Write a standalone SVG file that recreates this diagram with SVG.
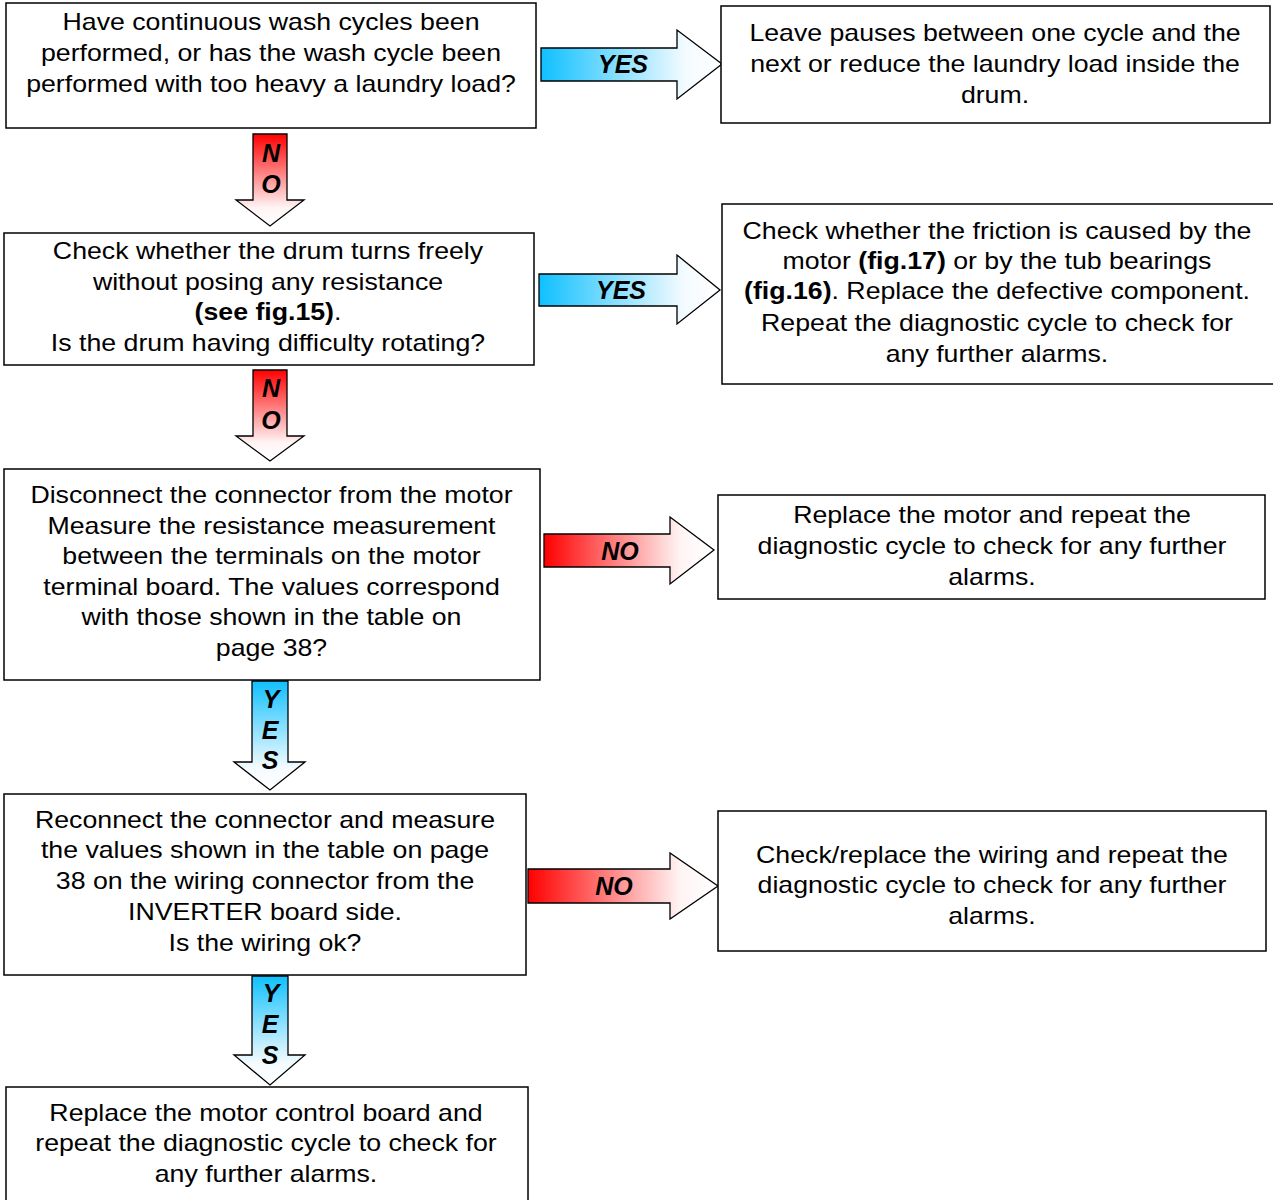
<svg xmlns="http://www.w3.org/2000/svg" width="1273" height="1200" viewBox="0 0 1273 1200">
<style>
  .box { fill: #ffffff; stroke: #000000; stroke-width: 1.5; }
  .t { font-family: "Liberation Sans", Arial, sans-serif; font-size: 24px; fill: #000000; text-anchor: middle; }
  .b { font-weight: bold; }
  .arr { stroke: #000000; stroke-width: 1.3; stroke-linejoin: miter; }
  .lbl { font-family: "Liberation Sans", Arial, sans-serif; font-size: 25px; font-weight: bold; font-style: italic; fill: #000000; text-anchor: middle; }
</style>
<defs>
  <linearGradient id="blueH" x1="0" y1="0" x2="1" y2="0">
    <stop offset="0" stop-color="#0fc0ff"/>
    <stop offset="0.8" stop-color="#f4fbff"/>
    <stop offset="1" stop-color="#ffffff"/>
  </linearGradient>
  <linearGradient id="redH" x1="0" y1="0" x2="1" y2="0">
    <stop offset="0" stop-color="#ff0000"/>
    <stop offset="0.8" stop-color="#fff4f4"/>
    <stop offset="1" stop-color="#ffffff"/>
  </linearGradient>
  <linearGradient id="blueV" x1="0" y1="0" x2="0" y2="1">
    <stop offset="0" stop-color="#0fc0ff"/>
    <stop offset="0.8" stop-color="#f4fbff"/>
    <stop offset="1" stop-color="#ffffff"/>
  </linearGradient>
  <linearGradient id="redV" x1="0" y1="0" x2="0" y2="1">
    <stop offset="0" stop-color="#ff0000"/>
    <stop offset="0.8" stop-color="#fff4f4"/>
    <stop offset="1" stop-color="#ffffff"/>
  </linearGradient>
</defs>
<rect width="1273" height="1200" fill="#ffffff"/>

<g id="connectors">
  <!-- right-pointing arrows -->
  <path class="arr" fill="url(#blueH)" d="M541,48 H677 V30 L722,64 L677,99 V81 H541 Z"/>
  <text class="lbl" x="623" y="73">YES</text>
  <path class="arr" fill="url(#blueH)" d="M539,274 H677 V255 L720,290 L677,324 V306 H539 Z"/>
  <text class="lbl" x="621" y="299">YES</text>
  <path class="arr" fill="url(#redH)" d="M544,534 H670 V517 L714,550 L670,584 V567 H544 Z"/>
  <text class="lbl" x="620" y="560">NO</text>
  <path class="arr" fill="url(#redH)" d="M528,869 H670 V853 L718,886 L670,919 V903 H528 Z"/>
  <text class="lbl" x="614" y="895">NO</text>
  <!-- downward arrows -->
  <path class="arr" fill="url(#redV)" d="M253,134 H287 V200 H304 L270,226 L236,200 H253 Z"/>
  <text class="lbl" x="271" y="162">N</text>
  <text class="lbl" x="271" y="193">O</text>
  <path class="arr" fill="url(#redV)" d="M253,370 H287 V436 H304 L270,461 L236,436 H253 Z"/>
  <text class="lbl" x="271" y="397">N</text>
  <text class="lbl" x="271" y="429">O</text>
  <path class="arr" fill="url(#blueV)" d="M252,681 H288 V762 H305 L270,790 L234,762 H252 Z"/>
  <text class="lbl" x="271" y="708">Y</text>
  <text class="lbl" x="270" y="739">E</text>
  <text class="lbl" x="270" y="769">S</text>
  <path class="arr" fill="url(#blueV)" d="M252,976 H288 V1055 H305 L270,1085 L234,1055 H252 Z"/>
  <text class="lbl" x="271" y="1002">Y</text>
  <text class="lbl" x="270" y="1033">E</text>
  <text class="lbl" x="270" y="1064">S</text>
</g>

<g id="q-continuous-cycles">
  <rect class="box" x="6" y="3" width="530" height="125"/>
  <g transform="translate(271,0) scale(1.113,1)">
    <text class="t" x="0" y="30">Have continuous wash cycles been</text>
    <text class="t" x="0" y="61">performed, or has the wash cycle been</text>
    <text class="t" x="0" y="92">performed with too heavy a laundry load?</text>
  </g>
</g>

<g id="a-leave-pauses">
  <rect class="box" x="721" y="6" width="549" height="117"/>
  <g transform="translate(995,0) scale(1.113,1)">
    <text class="t" x="0" y="41">Leave pauses between one cycle and the</text>
    <text class="t" x="0" y="72">next or reduce the laundry load inside the</text>
    <text class="t" x="0" y="103">drum.</text>
  </g>
</g>

<g id="q-drum-turns">
  <rect class="box" x="4" y="233" width="530" height="132"/>
  <g transform="translate(268,0) scale(1.113,1)">
    <text class="t" x="0" y="259">Check whether the drum turns freely</text>
    <text class="t" x="0" y="290">without posing any resistance</text>
    <text class="t" x="0" y="320"><tspan class="b">(see fig.15)</tspan>.</text>
    <text class="t" x="0" y="351">Is the drum having difficulty rotating?</text>
  </g>
</g>

<g id="a-check-friction">
  <rect class="box" x="722" y="204" width="556" height="180"/>
  <g transform="translate(997,0) scale(1.113,1)">
    <text class="t" x="0" y="239">Check whether the friction is caused by the</text>
    <text class="t" x="0" y="269">motor <tspan class="b">(fig.17)</tspan> or by the tub bearings</text>
    <text class="t" x="0" y="299"><tspan class="b">(fig.16)</tspan>. Replace the defective component.</text>
    <text class="t" x="0" y="331">Repeat the diagnostic cycle to check for</text>
    <text class="t" x="0" y="362">any further alarms.</text>
  </g>
</g>

<g id="q-motor-resistance">
  <rect class="box" x="4" y="469" width="536" height="211"/>
  <g transform="translate(271.5,0) scale(1.113,1)">
    <text class="t" x="0" y="503">Disconnect the connector from the motor</text>
    <text class="t" x="0" y="534">Measure the resistance measurement</text>
    <text class="t" x="0" y="564">between the terminals on the motor</text>
    <text class="t" x="0" y="595">terminal board. The values correspond</text>
    <text class="t" x="0" y="625">with those shown in the table on</text>
    <text class="t" x="0" y="656">page 38?</text>
  </g>
</g>

<g id="a-replace-motor">
  <rect class="box" x="718" y="495" width="547" height="104"/>
  <g transform="translate(992,0) scale(1.113,1)">
    <text class="t" x="0" y="523">Replace the motor and repeat the</text>
    <text class="t" x="0" y="554">diagnostic cycle to check for any further</text>
    <text class="t" x="0" y="585">alarms.</text>
  </g>
</g>

<g id="q-wiring">
  <rect class="box" x="4" y="794" width="522" height="181"/>
  <g transform="translate(265,0) scale(1.113,1)">
    <text class="t" x="0" y="828">Reconnect the connector and measure</text>
    <text class="t" x="0" y="858">the values shown in the table on page</text>
    <text class="t" x="0" y="889">38 on the wiring connector from the</text>
    <text class="t" x="0" y="920">INVERTER board side.</text>
    <text class="t" x="0" y="951">Is the wiring ok?</text>
  </g>
</g>

<g id="a-replace-wiring">
  <rect class="box" x="718" y="811" width="548" height="140"/>
  <g transform="translate(992,0) scale(1.113,1)">
    <text class="t" x="0" y="863">Check/replace the wiring and repeat the</text>
    <text class="t" x="0" y="893">diagnostic cycle to check for any further</text>
    <text class="t" x="0" y="924">alarms.</text>
  </g>
</g>

<g id="a-replace-board">
  <rect class="box" x="6" y="1087" width="522" height="125"/>
  <g transform="translate(266,0) scale(1.113,1)">
    <text class="t" x="0" y="1121">Replace the motor control board and</text>
    <text class="t" x="0" y="1151">repeat the diagnostic cycle to check for</text>
    <text class="t" x="0" y="1182">any further alarms.</text>
  </g>
</g>
</svg>
